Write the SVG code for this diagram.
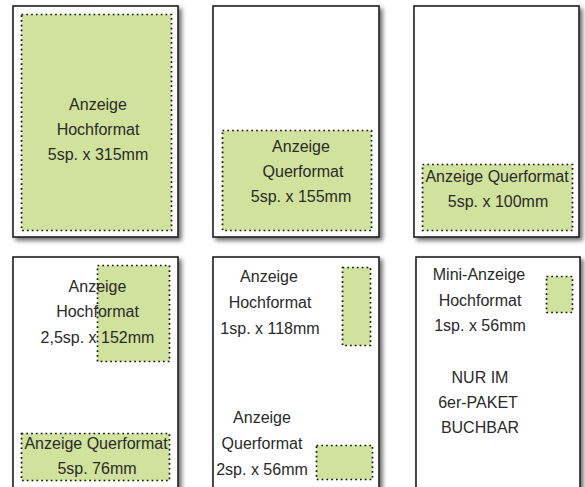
<svg xmlns="http://www.w3.org/2000/svg" width="585" height="487" viewBox="0 0 585 487">
<style>
.page{fill:#fff;stroke:#1e1e1e;stroke-width:1.6;filter:url(#sh)}
.ad{fill:#d0e29c;stroke:#111;stroke-width:1.7;stroke-dasharray:1.7 3.1}
text{font-family:"Liberation Sans",Arial,sans-serif;font-size:16px;fill:#2a2a2a;text-anchor:middle}
</style>
<defs>
<filter id="sh" x="-10%" y="-10%" width="130%" height="130%">
<feDropShadow dx="3" dy="3" stdDeviation="2.2" flood-color="#444" flood-opacity="0.75"/>
</filter>
</defs>
<rect width="585" height="487" fill="#fff"/>
<g id="p1">
<rect class="page" x="13" y="6" width="165" height="231"/>
<rect class="ad" x="21.5" y="14.5" width="150" height="216"/>
<text x="98" y="110">Anzeige</text>
<text x="98" y="135">Hochformat</text>
<text x="98" y="160">5sp. x 315mm</text>
</g>
<g id="p2">
<rect class="page" x="213" y="6" width="166" height="231"/>
<rect class="ad" x="222.5" y="130.5" width="149" height="100"/>
<text x="301" y="152">Anzeige</text>
<text x="303" y="177">Querformat</text>
<text x="301" y="202">5sp. x 155mm</text>
</g>
<g id="p3">
<rect class="page" x="414" y="6" width="165" height="231"/>
<rect class="ad" x="422.5" y="164.5" width="150" height="66"/>
<text x="497" y="182">Anzeige Querformat</text>
<text x="498" y="207">5sp. x 100mm</text>
</g>
<g id="p4">
<rect class="page" x="13" y="257" width="165" height="240"/>
<rect class="ad" x="97.5" y="265.5" width="72" height="96"/>
<rect class="ad" x="21.5" y="433.5" width="148" height="47"/>
<text x="97.5" y="292">Anzeige</text>
<text x="97.5" y="317">Hochformat</text>
<text x="97.5" y="343">2,5sp. x 152mm</text>
<text x="96" y="449">Anzeige Querformat</text>
<text x="97" y="474">5sp. 76mm</text>
</g>
<g id="p5">
<rect class="page" x="213" y="257" width="166" height="240"/>
<rect class="ad" x="342.5" y="267.5" width="28" height="78"/>
<rect class="ad" x="316.5" y="445.5" width="56" height="34"/>
<text x="269" y="282">Anzeige</text>
<text x="270" y="308">Hochformat</text>
<text x="270" y="334">1sp. x 118mm</text>
<text x="262" y="423">Anzeige</text>
<text x="262" y="449">Querformat</text>
<text x="262" y="475">2sp. x 56mm</text>
</g>
<g id="p6">
<rect class="page" x="416" y="257" width="164" height="240"/>
<rect class="ad" x="546.5" y="276.5" width="26" height="36"/>
<text x="479" y="280">Mini-Anzeige</text>
<text x="480" y="306">Hochformat</text>
<text x="480" y="331">1sp. x 56mm</text>
<text x="480" y="383">NUR IM</text>
<text x="478" y="408">6er-PAKET</text>
<text x="480" y="433">BUCHBAR</text>
</g>
<g id="connectors"/>
</svg>
